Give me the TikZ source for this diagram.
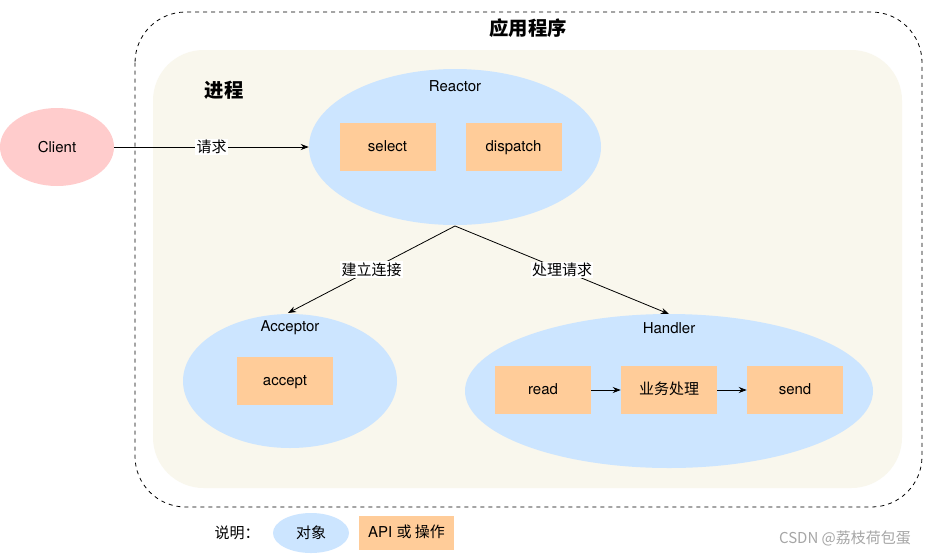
\documentclass[tikz,border=0pt]{standalone}
\usepackage{fontspec}
\setmainfont{TeX Gyre Heros}
\newfontfamily\cjk{Noto Sans CJK SC}
\usetikzlibrary{arrows.meta,shapes.geometric}
\definecolor{objblue}{HTML}{CCE5FF}
\definecolor{apiorange}{HTML}{FFCC99}
\definecolor{clientpink}{HTML}{FFCCCC}
\definecolor{procbeige}{HTML}{F9F7ED}
\begin{document}
\begin{tikzpicture}[x=0.75pt,y=-0.75pt,
  font=\fontsize{11.25}{13}\selectfont,
  obj/.style={ellipse,fill=objblue,inner sep=0pt},
  api/.style={rectangle,fill=apiorange,minimum width=72pt,minimum height=36pt,inner sep=0pt,text height=8pt,text depth=2pt},
  conn/.style={draw=black,line width=0.6pt,-{Stealth[length=6pt,width=4.5pt]}},
  lbl/.style={fill=white,inner sep=1pt,font=\cjk\fontsize{11.25}{13}\selectfont},
  ttl/.style={font=\cjk\bfseries\fontsize{14.5}{16}\selectfont}
]
\useasboundingbox (0,0) rectangle (944,554);
\fill[white] (0,0) rectangle (944,554);
% outer application box
\draw[dashed,line width=0.6pt,rounded corners=38pt] (135,12) rectangle (922,507);
\node[ttl] (app) at (528,28) {应用程序};
% process box
\fill[procbeige,rounded corners=38pt] (153,50) rectangle (902,488);
\node[ttl] (proc) at (224,90) {进程};
% client
\node[ellipse,fill=clientpink,minimum width=85.5pt,minimum height=58.5pt,inner sep=0pt] (client) at (57,147) {Client};
% reactor
\node[obj,minimum width=219pt,minimum height=117pt] (reactor) at (455,147) {};
\node (reactorlbl) at (455,86) {Reactor};
\node[api] (select) at (387.5,147) {select};
\node[api] (dispatch) at (513.5,147) {dispatch};
% acceptor
\node[obj,minimum width=160.5pt,minimum height=100.5pt] (acceptor) at (290,381) {};
\node (acceptorlbl) at (290,328) {Acceptor};
\node[api] (accept) at (285,381) {accept};
% handler
\node[obj,minimum width=306pt,minimum height=115.5pt] (handler) at (669,391) {};
\node (handlerlbl) at (669,328) {Handler};
\node[api] (read) at (543,390) {read};
\node[api,font=\cjk\fontsize{11.25}{13}\selectfont] (biz) at (669,390) {业务处理};
\node[api] (send) at (795,390) {send};
% connectors
\coordinate (rbot) at (455,226);
\coordinate (acctop) at (288,313);
\coordinate (handtop) at (669,314);
\draw[conn] (client.east) -- node[lbl] (reqlbl) {请求} (reactor.west);
\draw[conn] (rbot) -- node[lbl,pos=0.5] (connlbl) {建立连接} (acctop);
\draw[conn] (rbot) -- node[lbl,pos=0.5] (handlelbl) {处理请求} (handtop);
\draw[conn] (read) -- (biz);
\draw[conn] (biz) -- (send);
% legend
\node[font=\cjk\fontsize{11.25}{13}\selectfont] (legendlbl) at (237,533) {说明：};
\node[obj,minimum width=57pt,minimum height=30pt,font=\cjk\fontsize{11.25}{13}\selectfont] (legobj) at (311,533) {对象};
\node[api,minimum width=71pt,minimum height=25.5pt] (legapi) at (406.5,533) {API {\cjk 或 操作}};
% watermark
\node[text=black!35,font=\cjk\fontsize{11.25}{13}\selectfont] (wm) at (845,538) {CSDN @荔枝荷包蛋};
\end{tikzpicture}
\end{document}
